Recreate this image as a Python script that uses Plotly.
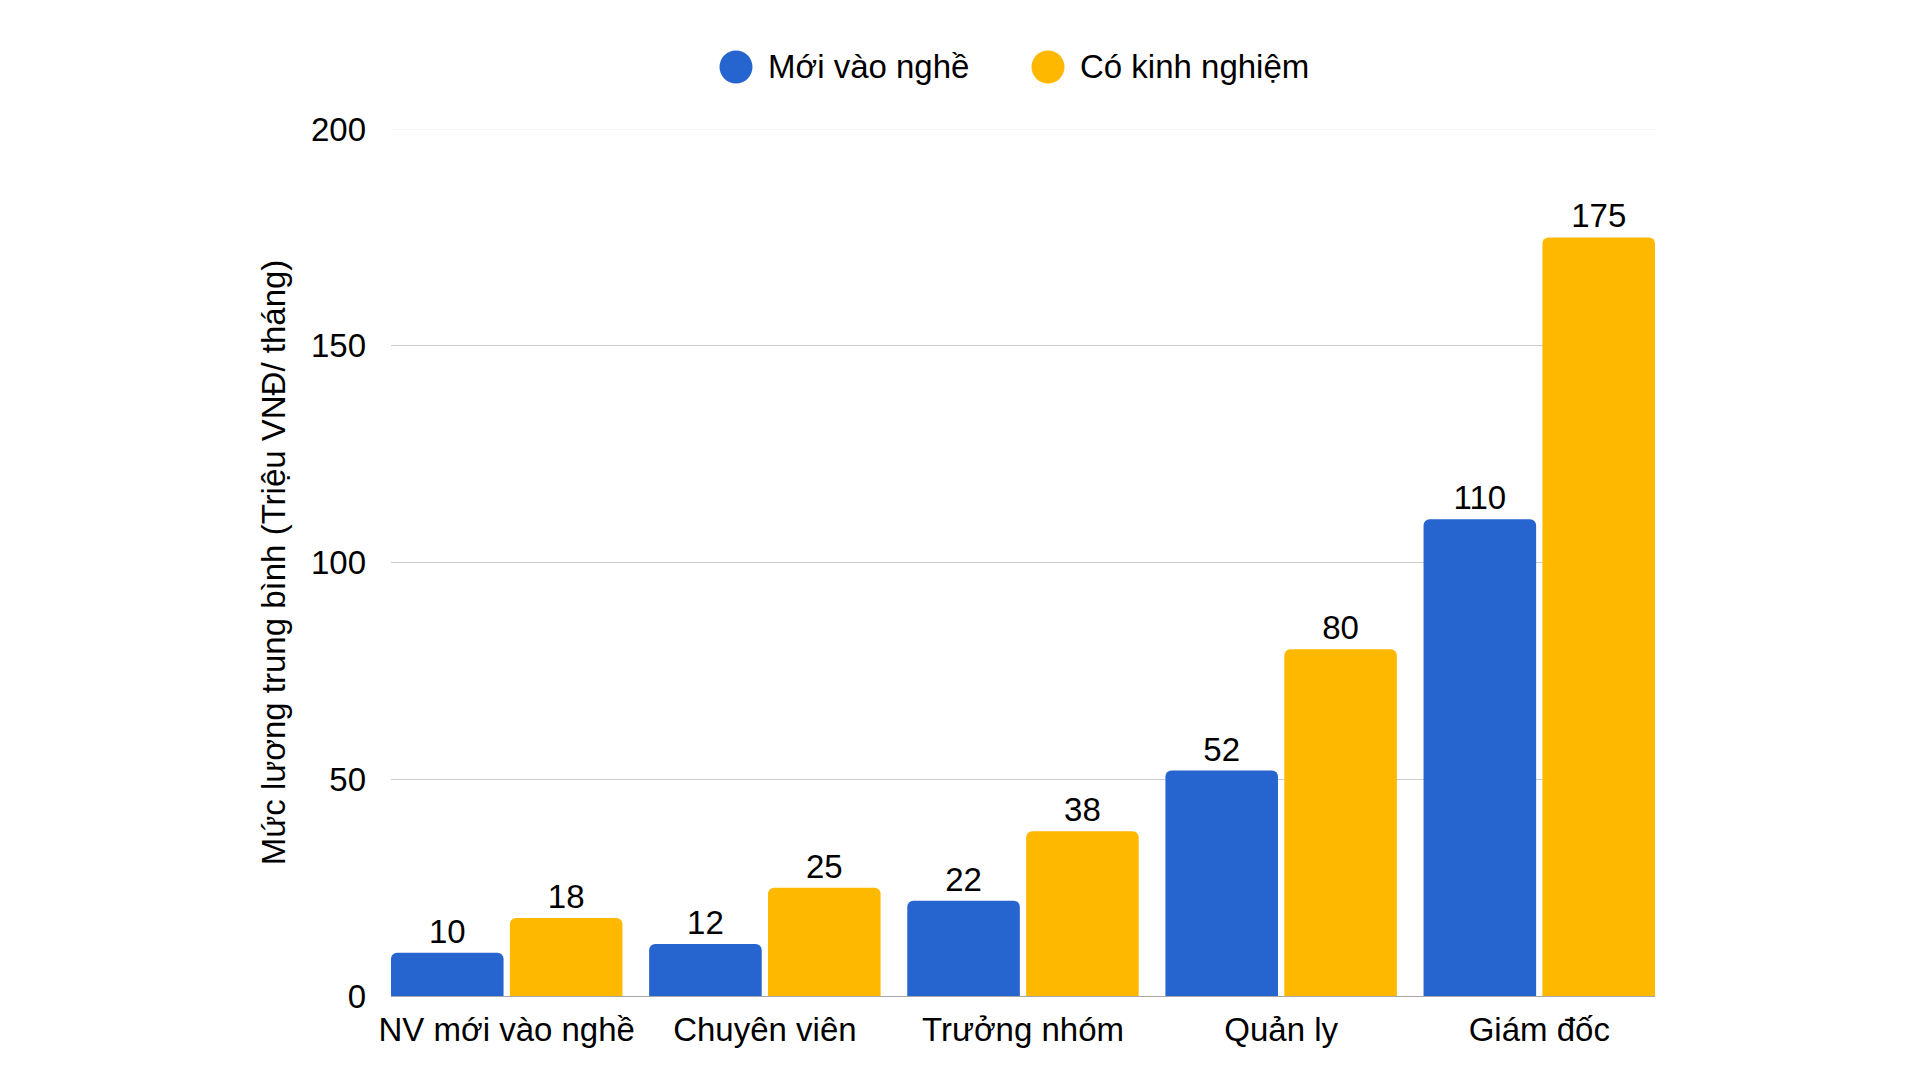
import plotly.graph_objects as go

categories = ["NV mới vào nghề", "Chuyên viên", "Trưởng nhóm", "Quản ly", "Giám đốc"]
series_names = ["Mới vào nghề", "Có kinh nghiệm"]
moi_vao_nghe = [10, 12, 22, 52, 110]
co_kinh_nghiem = [18, 25, 38, 80, 175]
y_ticks = [0, 50, 100, 150, 200]
y_title = "Mức lương trung bình (Triệu VNĐ/ tháng)"

BLUE = "#2664d0"
YELLOW = "#feb800"
FONT = "Liberation Sans, Arial, sans-serif"
FS = 33

W, H = 1920, 1080
L, R, T, B = 391, 1920 - 1655, 129, 1080 - 996
PW, PH = W - L - R, H - T - B

BARGAP = 0.079
BARGROUPGAP = 0.053
inset = BARGAP / 2 + (1 - BARGAP) / 2 * BARGROUPGAP / 2

def px_x(px):
    return (px - L) / PW

def px_y(py):
    return (H - B - py) / PH

fig = go.Figure()
for name, vals, col in [(series_names[0], moi_vao_nghe, BLUE), (series_names[1], co_kinh_nghiem, YELLOW)]:
    fig.add_trace(go.Bar(
        x=categories, y=vals, name=name, marker=dict(color=col, line=dict(width=0)),
        texttemplate="%{y}", textposition="outside",
        textfont=dict(size=FS, color="#000000", family=FONT),
        cliponaxis=False, showlegend=False,
    ))

# custom legend (large circular markers)
legend_items = [(series_names[0], BLUE, 736, 766), (series_names[1], YELLOW, 1048, 1078)]
shapes = []
annotations = []
for name, col, cx, tx in legend_items:
    shapes.append(dict(type="circle", xref="paper", yref="paper", xsizemode="pixel", ysizemode="pixel",
                       xanchor=px_x(cx), yanchor=px_y(67), x0=-16.5, x1=16.5, y0=-16.5, y1=16.5,
                       fillcolor=col, line=dict(width=0), layer="above"))
    annotations.append(dict(text=name, xref="paper", yref="paper", x=px_x(tx), y=px_y(67),
                            xanchor="left", yanchor="middle", showarrow=False,
                            font=dict(size=FS, color="#000000", family=FONT)))

# lighter top gridline
shapes.append(dict(type="line", xref="paper", yref="y", x0=0, x1=1, y0=200, y1=200,
                   line=dict(color="#ebebeb", width=1), layer="below"))

fig.update_layout(
    width=W, height=H, autosize=False,
    margin=dict(l=L, r=R, t=T, b=B),
    paper_bgcolor="white", plot_bgcolor="white",
    barmode="group", bargap=BARGAP, bargroupgap=BARGROUPGAP,
    barcornerradius=6,
    font=dict(family=FONT, size=FS, color="#000000"),
    shapes=shapes, annotations=annotations,
    showlegend=False,
)
fig.update_xaxes(range=[-0.5 + inset, len(categories) - 0.5 - inset], showgrid=False,
                 showline=True, linecolor="#a6a6a6", linewidth=1,
                 ticks="", tickfont=dict(size=FS, color="#000000", family=FONT), ticklabelstandoff=4)
fig.update_yaxes(range=[0, 200], tickvals=y_ticks, showgrid=True, gridcolor="#cccccc", gridwidth=1,
                 zeroline=False, showline=False, ticks="",
                 tickfont=dict(size=FS, color="#000000", family=FONT), ticklabelstandoff=24,
                 title=dict(text=y_title, font=dict(size=FS, color="#000000", family=FONT), standoff=15))

fig.write_html("out.html")
